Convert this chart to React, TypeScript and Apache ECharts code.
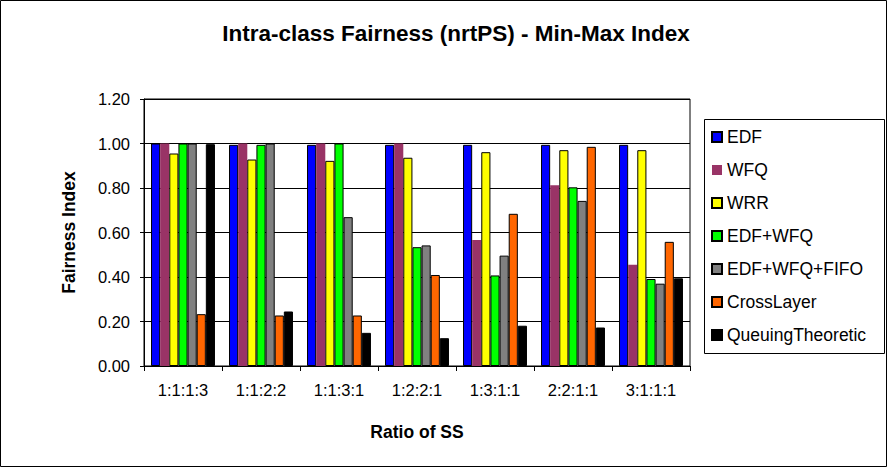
import React, { useEffect, useRef } from "react";
import * as echarts from "echarts";

const categories = ["1:1:1:3", "1:1:2:2", "1:1:3:1", "1:2:2:1", "1:3:1:1", "2:2:1:1", "3:1:1:1"];
const seriesNames = ["EDF", "WFQ", "WRR", "EDF+WFQ", "EDF+WFQ+FIFO", "CrossLayer", "QueuingTheoretic"];
const seriesColors = ["#0000FF", "#993366", "#FFFF00", "#00FF00", "#808080", "#FF6600", "#000000"];
const edf = [1.0, 0.994, 0.994, 0.994, 0.994, 0.994, 0.994];
const wfq = [1.0, 1.0, 1.0, 1.0, 0.566, 0.812, 0.455];
const wrr = [0.955, 0.928, 0.922, 0.936, 0.961, 0.97, 0.97];
const edfWfq = [1.0, 0.994, 1.0, 0.534, 0.407, 0.803, 0.391];
const edfWfqFifo = [1.0, 1.0, 0.669, 0.542, 0.496, 0.742, 0.37];
const crossLayer = [0.233, 0.227, 0.227, 0.409, 0.684, 0.985, 0.558];
const queuing = [0.997, 0.245, 0.149, 0.125, 0.181, 0.173, 0.394];
const seriesValues = [edf, wfq, wrr, edfWfq, edfWfqFifo, crossLayer, queuing];

const FONT = "'Liberation Sans', Arial, sans-serif";

export default function App() {
  const ref = useRef<HTMLDivElement>(null);
  useEffect(() => {
    document.body.style.margin = "0";
    const chart = echarts.init(ref.current!, undefined, { renderer: "svg" });
    chart.setOption({
      animation: false,
      backgroundColor: "#fff",
      textStyle: { fontFamily: FONT },
      title: {
        text: "Intra-class Fairness (nrtPS) - Min-Max Index",
        left: 451,
        top: 17,
        textAlign: "center",
        textStyle: { fontFamily: FONT, fontWeight: "bold", fontSize: 22.5, color: "#000" },
      },
      graphic: [
        {
          type: "rect",
          shape: { x: 0.5, y: 0.5, width: 886, height: 466 },
          style: { fill: "none", stroke: "#000", lineWidth: 1 },
          silent: true,
        },
        {
          type: "rect",
          shape: { x: 704.5, y: 119.5, width: 180, height: 234 },
          style: { fill: "none", stroke: "#000", lineWidth: 1 },
          silent: true,
        },
      ],
      legend: {
        orient: "vertical",
        left: 704,
        top: 119,
        padding: [9, 6, 7, 7],
        itemWidth: 10,
        itemHeight: 10,
        itemGap: 15,
        icon: "rect",
        textStyle: { fontFamily: FONT, fontSize: 17.5, color: "#000" },
        data: seriesNames,
      },
      grid: {
        left: 144,
        top: 99,
        right: 197,
        bottom: 101,
        show: true,
        borderColor: "#000",
        borderWidth: 1,
        backgroundColor: "#fff",
      },
      xAxis: {
        type: "category",
        data: categories,
        name: "Ratio of SS",
        nameLocation: "middle",
        nameGap: 57,
        nameTextStyle: { fontFamily: FONT, fontWeight: "bold", fontSize: 17.5, color: "#000" },
        axisLine: { lineStyle: { color: "#000", width: 1 } },
        axisTick: { show: true, length: 5, lineStyle: { color: "#000" } },
        axisLabel: { color: "#000", fontSize: 16.5, fontFamily: FONT, margin: 15 },
      },
      yAxis: {
        type: "value",
        min: 0,
        max: 1.2,
        interval: 0.2,
        name: "Fairness Index",
        nameLocation: "middle",
        nameGap: 66,
        nameTextStyle: { fontFamily: FONT, fontWeight: "bold", fontSize: 17.5, color: "#000" },
        axisLine: { show: true, lineStyle: { color: "#000", width: 1 } },
        axisTick: { show: true, length: 4, lineStyle: { color: "#000" } },
        axisLabel: {
          color: "#000",
          fontSize: 16.5,
          fontFamily: FONT,
          margin: 14,
          formatter: (v: number) => v.toFixed(2),
        },
        splitLine: { show: true, lineStyle: { color: "#000", width: 1 } },
      },
      series: seriesNames.map((name, i) => ({
        name,
        type: "bar",
        data: seriesValues[i],
        barGap: "0%",
        barCategoryGap: "18%",
        itemStyle: {
          color: seriesColors[i],
          borderColor: i === 1 ? seriesColors[i] : "#000",
          borderWidth: i === 1 ? 0 : 1,
        },
      })),
    });
    return () => chart.dispose();
  }, []);
  return <div ref={ref} style={{ width: 887, height: 467 }} />;
}
